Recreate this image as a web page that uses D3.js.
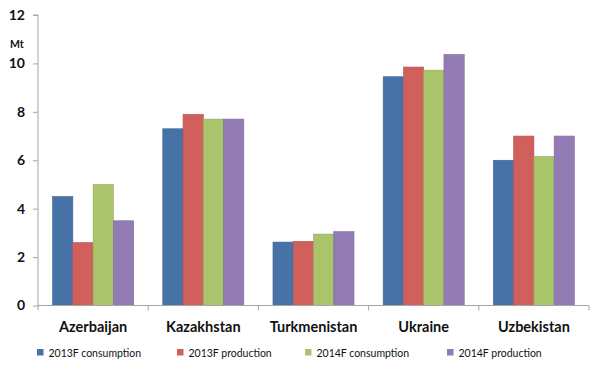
<!DOCTYPE html>
<html><head><meta charset="utf-8">
<script src="https://cdn.jsdelivr.net/npm/d3@7"></script>
<style>body{margin:0;background:#fff}svg{display:block}text{font-family:Lato,"Open Sans",sans-serif}</style>
</head><body><svg id="c" width="600" height="370"></svg>
<script>
const categories = ["Azerbaijan","Kazakhstan","Turkmenistan","Ukraine","Uzbekistan"];
const seriesNames = ["2013F consumption","2013F production","2014F consumption","2014F production"];
const cons2013 = [4.5, 7.3, 2.62, 9.45, 6.0];
const prod2013 = [2.6, 7.9, 2.65, 9.85, 7.0];
const cons2014 = [5.0, 7.7, 2.95, 9.72, 6.15];
const prod2014 = [3.5, 7.7, 3.05, 10.37, 7.0];
const yTicks = [0,2,4,6,8,10,12];
const unitLabel = "Mt";
const colors = ["#4672a8","#d1605c","#a9c46a","#937bb3"];

(function(){
const series = [cons2013, prod2013, cons2014, prod2014];
const svg = d3.select("#c");
const mLeft = 38, mRight = 589, mTop = 15, mBottom = 305.5;
const x0 = d3.scaleBand().domain(categories).range([mLeft, mRight]).padding(0);
const x1 = d3.scaleBand().domain(d3.range(series.length)).range([0, x0.bandwidth()]).paddingInner(0).paddingOuter(0.72);
const y = d3.scaleLinear().domain([0, 12]).range([mBottom, mTop]);

const g = svg.append("g");
categories.forEach((c, ci) => {
  series.forEach((s, si) => {
    const col = d3.color(colors[si]);
    g.append("rect")
      .attr("x", x0(c) + x1(si))
      .attr("y", y(s[ci]))
      .attr("width", x1.bandwidth())
      .attr("height", y(0) - y(s[ci]))
      .attr("fill", colors[si])
      .attr("stroke", col.darker(0.4))
      .attr("stroke-width", 0.6);
  });
});

const yAxis = d3.axisLeft(y).tickValues(yTicks).tickSize(5).tickPadding(8).tickFormat(d3.format("d"));
const ya = svg.append("g").attr("transform", `translate(${mLeft},0)`).call(yAxis);
ya.select(".domain").attr("stroke", "#a6a6a6").attr("d", `M-5,${mTop}H0V${mBottom}`);
ya.selectAll(".tick line").attr("stroke", "#a6a6a6");
ya.selectAll("text").attr("font-size", 14).attr("font-weight", "bold").attr("fill", "#111").attr("font-family", "Lato, sans-serif");

const xa = svg.append("g").attr("transform", `translate(0,${mBottom})`);
xa.append("line").attr("x1", mLeft).attr("x2", mRight).attr("stroke", "#a6a6a6");
const bounds = categories.map(c => x0(c)).concat([mRight]);
xa.selectAll(".bt").data(bounds).enter().append("line")
  .attr("x1", d => d).attr("x2", d => d).attr("y1", 0).attr("y2", 5).attr("stroke", "#a6a6a6");
xa.selectAll(".cl").data(categories).enter().append("text")
  .attr("x", d => x0(d) + x0.bandwidth() / 2)
  .attr("y", 26)
  .attr("text-anchor", "middle")
  .attr("font-size", 14.5).attr("font-weight", "bold").attr("fill", "#111")
  .text(d => d);

svg.append("text").attr("x", 10).attr("y", 48).attr("font-size", 10.5).attr("font-weight", "bold").attr("fill", "#111").text(unitLabel);

const legX = [37, 177, 305, 447];
const lg = svg.append("g");
seriesNames.forEach((n, i) => {
  lg.append("rect").attr("x", legX[i]).attr("y", 349).attr("width", 6.5).attr("height", 6.5).attr("fill", colors[i]);
  lg.append("text").attr("x", legX[i] + 11.5).attr("y", 356.5).attr("font-size", 10.5).attr("fill", "#111").text(n);
});
})();
</script></body></html>
